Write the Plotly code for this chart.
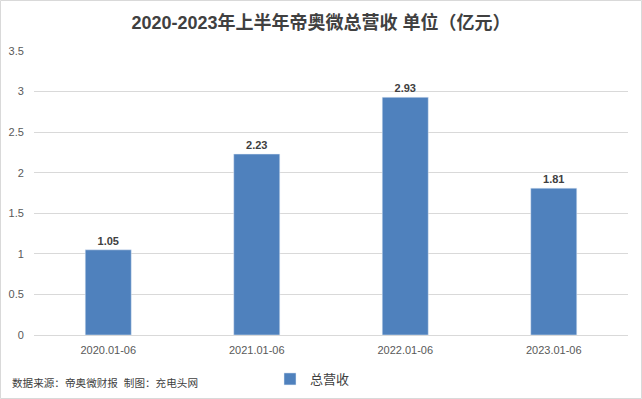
import plotly.graph_objects as go

categories = ["2020.01-06", "2021.01-06", "2022.01-06", "2023.01-06"]
revenue = [1.05, 2.23, 2.93, 1.81]
series_name = "总营收"
title = "2020-2023年上半年帝奥微总营收 单位（亿元）"
source = "数据来源：帝奥微财报  制图：充电头网"

W, H = 642, 399
L, R, T, B = 34, 14, 51, 64
pw, ph = W - L - R, H - T - B

fig = go.Figure(go.Bar(
    x=categories, y=revenue, name=series_name,
    marker_color="#4f81bd",
    texttemplate="<b>%{y:.2f}</b>", textposition="outside",
    textfont=dict(size=11, color="#404040", family="Liberation Sans"),
    cliponaxis=False,
))

fig.update_layout(
    width=W, height=H,
    margin=dict(l=L, r=R, t=T, b=B, autoexpand=False),
    paper_bgcolor="white", plot_bgcolor="white",
    font=dict(family="Liberation Sans, Noto Sans CJK SC", color="#595959", size=11),
    title=dict(text="<b>" + title + "</b>", x=0.5, xanchor="center", y=1 - 23 / H, yanchor="middle",
               font=dict(size=18, color="#404040", family="Liberation Sans, Noto Sans CJK SC")),
    bargap=0.69,
    showlegend=True,
    legend=dict(orientation="h", xref="container", yref="container",
                x=270 / W, y=1 - 379 / H, xanchor="left", yanchor="middle",
                font=dict(size=13, color="#404040"), bgcolor="rgba(0,0,0,0)"),
    xaxis=dict(showgrid=False, showline=True, linecolor="#d9d9d9", ticks="", automargin=False,
               ticklabelstandoff=5, tickfont=dict(size=11, color="#595959")),
    yaxis=dict(range=[0, 3.5], dtick=0.5, showgrid=True, gridcolor="#d9d9d9", zeroline=False,
               showline=False, tickfont=dict(size=11, color="#595959"), tickformat="~g",
               ticksuffix="   ", automargin=False),
    annotations=[dict(text=source, xref="paper", yref="paper", x=(10 - L) / pw, y=(T + ph - 383) / ph,
                      xanchor="left", yanchor="middle", showarrow=False,
                      font=dict(size=10.6, color="#404040"))],
    shapes=[dict(type="rect", xref="paper", yref="paper",
                 x0=-(L - 0.5) / pw, x1=1 + (R - 0.5) / pw,
                 y0=-(B - 0.5) / ph, y1=1 + (T - 0.5) / ph,
                 line=dict(color="#d9d9d9", width=1))],
)

fig.write_html("out.html", config={"displayModeBar": False},
               post_script="document.body.style.margin='0';document.body.style.overflow='hidden';")
